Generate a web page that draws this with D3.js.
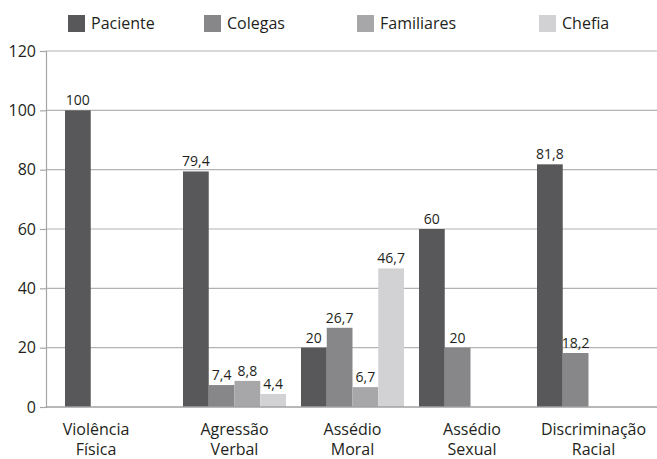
<!DOCTYPE html>
<html><head><meta charset="utf-8">
<script src="https://cdn.jsdelivr.net/npm/d3@7"></script>
<style>
html,body{margin:0;padding:0;background:#fff;}
svg{display:block;}
text{font-family:"Open Sans","Noto Sans",sans-serif;fill:#231f20;}
</style></head>
<body>
<svg id="chart" width="657" height="459"></svg>
<script>
const categories = [["Violência","Física"],["Agressão","Verbal"],["Assédio","Moral"],["Assédio","Sexual"],["Discriminação","Racial"]];
const seriesNames = ["Paciente","Colegas","Familiares","Chefia"];
const paciente   = [100, 79.4, 20, 60, 81.8];
const colegas    = [null, 7.4, 26.7, 20, 18.2];
const familiares = [null, 8.8, 6.7, null, null];
const chefia     = [null, 4.4, 46.7, null, null];
const yTicks = [0, 20, 40, 60, 80, 100, 120];

const seriesValues = [paciente, colegas, familiares, chefia];
const colors = ["#58585a", "#87878a", "#a7a7a9", "#d2d2d4"];

const svg = d3.select("#chart");
const plotLeft = 46, plotRight = 657, plotTop = 51, plotBottom = 407;

const y = d3.scaleLinear().domain([0, 120]).range([plotBottom, plotTop]);
const catKeys = categories.map(c => c.join(" "));
const x0 = d3.scaleBand().domain(catKeys).range([57.5, 647.5]).paddingInner(0.127).paddingOuter(0.0635);
const x1 = d3.scaleBand().domain(seriesNames).range([0, x0.bandwidth()]);

// gridlines
svg.append("g").selectAll("line").data(yTicks.filter(t => t > 0)).join("line")
  .attr("x1", plotLeft).attr("x2", plotRight)
  .attr("y1", d => y(d)).attr("y2", d => y(d))
  .attr("stroke", "#b3b3b3").attr("stroke-width", 1.2);

// y axis
const yAxis = d3.axisLeft(y).tickValues(yTicks).tickSize(6).tickPadding(4).tickFormat(d3.format("d"));
const ga = svg.append("g").attr("transform", `translate(${plotLeft},0)`).call(yAxis);
ga.select(".domain").attr("stroke", "#a5a5a5").attr("stroke-width", 1.2);
ga.selectAll(".tick line").attr("stroke", "#a5a5a5").attr("stroke-width", 1.2);
ga.selectAll(".tick text").attr("font-size", "16px").attr("fill", "#231f20")
  .attr("font-family", '"Open Sans","Noto Sans",sans-serif');

// bars
const barData = [];
catKeys.forEach((k, i) => {
  seriesNames.forEach((s, j) => {
    const v = seriesValues[j][i];
    if (v !== null && v !== undefined) barData.push({cat: k, series: s, value: v, j});
  });
});
svg.append("g").selectAll("rect").data(barData).join("rect")
  .attr("x", d => x0(d.cat) + x1(d.series))
  .attr("width", x1.bandwidth())
  .attr("y", d => y(d.value))
  .attr("height", d => y(0) - y(d.value))
  .attr("fill", d => colors[d.j]);

// baseline
svg.append("line").attr("x1", plotLeft).attr("x2", plotRight)
  .attr("y1", y(0)).attr("y2", y(0)).attr("stroke", "#a0a0a0").attr("stroke-width", 1.5);

// value labels
const fmt = v => (Math.round(v * 10) / 10).toString().replace(".", ",");
svg.append("g").selectAll("text").data(barData).join("text")
  .attr("x", d => x0(d.cat) + x1(d.series) + x1.bandwidth() / 2)
  .attr("y", d => y(d.value) - 5)
  .attr("text-anchor", "middle")
  .attr("font-size", "14px")
  .text(d => fmt(d.value));

// category labels
const labelShift = [-20.5, 0, 0, 1.5, 5];
const cl = svg.append("g").selectAll("text").data(categories).join("text")
  .attr("text-anchor", "middle")
  .attr("font-size", "16px")
  .attr("transform", (d, i) => `translate(${x0(catKeys[i]) + x0.bandwidth() / 2 + labelShift[i]},435)`);
cl.selectAll("tspan").data(d => d).join("tspan")
  .attr("x", 0).attr("dy", (d, i) => i === 0 ? 0 : 20).text(d => d);

// legend
const legendX = [68, 204, 357, 539];
const lg = svg.append("g").selectAll("g").data(seriesNames).join("g")
  .attr("transform", (d, i) => `translate(${legendX[i]},15)`);
lg.append("rect").attr("width", 17).attr("height", 17).attr("fill", (d, i) => colors[i]);
lg.append("text").attr("x", 23).attr("y", 14).attr("font-size", "16px").text(d => d);
</script>
</body></html>
